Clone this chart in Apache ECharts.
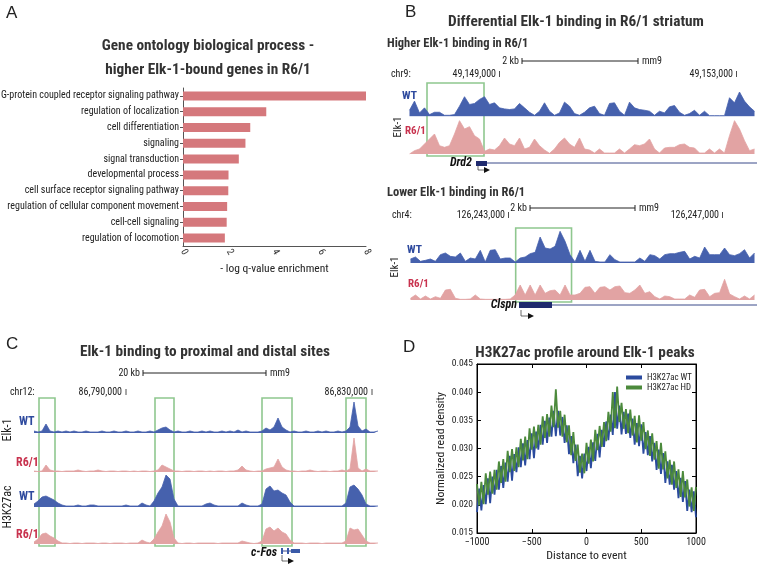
<!DOCTYPE html>
<html>
<head>
<meta charset="utf-8">
<script src="https://cdn.jsdelivr.net/npm/echarts@6/dist/echarts.min.js"></script>
<style>
  html, body { margin: 0; padding: 0; background: #fff; }
  #main { width: 757px; height: 565px; }
</style>
</head>
<body>
<div id="main"></div>
<script>
// ---- A: GO terms ----
const goTerms = [
  'G-protein coupled receptor signaling pathway',
  'regulation of localization',
  'cell differentiation',
  'signaling',
  'signal transduction',
  'developmental process',
  'cell surface receptor signaling pathway',
  'regulation of cellular component movement',
  'cell-cell signaling',
  'regulation of locomotion'
]
const goScores = [8.0, 3.64, 2.94, 2.73, 2.44, 1.99, 1.98, 1.93, 1.91, 1.83]

// ---- B: Drd2 locus (higher in R6/1), signal per 5px bin ----
const drd2WT = [18, 45, 10, 25, 5, 12, 12, 3, 3, 5, 30, 58, 35, 38, 50, 58, 35, 40, 25, 22,
  20, 22, 38, 25, 12, 3, 15, 40, 15, 3, 10, 42, 30, 8, 3, 12, 25, 30, 8, 3,
  38, 40, 15, 3, 42, 25, 20, 18, 15, 3, 15, 10, 28, 32, 12, 3, 8, 18, 3, 15,
  2, 2, 2, 2, 55, 40, 72, 45, 28, 15]
const drd2R6 = [0, 10, 15, 30, 45, 60, 25, 20, 25, 60, 100, 75, 82, 55, 45, 8, 15, 12, 25, 48,
  30, 25, 48, 15, 20, 45, 25, 12, 2, 15, 35, 48, 30, 20, 48, 15, 12, 3, 15, 3,
  3, 3, 15, 3, 15, 28, 25, 30, 45, 15, 3, 18, 20, 20, 28, 30, 20, 18, 3, 3,
  15, 3, 15, 3, 55, 100, 75, 40, 10, 15]
const drd2Box = [[4, 15.4]]

// ---- B: Clspn locus (lower in R6/1) ----
const clspnWT = [12, 18, 5, 8, 12, 5, 25, 30, 20, 18, 30, 5, 15, 12, 38, 3, 38, 40, 12, 15,
  15, 3, 15, 18, 28, 32, 78, 45, 42, 50, 95, 65, 25, 3, 38, 5, 38, 5, 3, 3,
  25, 10, 3, 3, 3, 3, 15, 5, 25, 22, 12, 25, 28, 28, 32, 35, 12, 20, 15, 48,
  25, 25, 25, 45, 25, 22, 28, 40, 15, 30]
const clspnR6 = [5, 15, 3, 12, 3, 10, 5, 30, 32, 5, 2, 2, 3, 15, 3, 2, 2, 2, 2, 2,
  3, 15, 45, 15, 45, 15, 45, 20, 28, 30, 15, 45, 15, 15, 20, 38, 40, 20, 38, 40,
  30, 40, 42, 22, 20, 30, 45, 20, 25, 10, 3, 12, 10, 3, 3, 3, 15, 8, 30, 32,
  10, 20, 22, 62, 18, 10, 3, 12, 3, 15]
const clspnBox = [[21.6, 32.8]]

// ---- C: c-Fos locus, signal per 4px bin ----
const fosElkWT = [2, 1, 2, 9, 2, 1, 2, 1, 2, 1, 2, 1, 1, 2, 1, 1, 1, 2, 1, 1,
  2, 1, 1, 2, 1, 1, 2, 1, 1, 2, 1, 3, 5, 6, 3, 1, 2, 1, 1, 2,
  1, 1, 2, 1, 2, 1, 1, 2, 1, 2, 1, 3, 1, 2, 1, 1, 1, 2, 5, 3,
  6, 15, 6, 3, 1, 2, 1, 1, 2, 1, 1, 2, 1, 2, 1, 1, 2, 1, 2, 6,
  31, 7, 2, 4, 1, 1, 2]
const fosElkR6 = [1, 0.5, 1, 7, 2, 1, 1, 0.5, 1, 1, 1, 2, 1, 0.5, 1, 1, 2, 1, 0.5, 1,
  1, 0.5, 1, 1, 0.5, 1, 0.5, 1, 1, 0.5, 1, 2, 7, 5, 3, 1, 1, 0.5, 1, 1,
  0.5, 1, 1, 0.5, 1, 0.5, 1, 1, 0.5, 1, 1, 2, 6, 2, 1, 0.5, 1, 1, 3, 4,
  5, 13, 5, 2, 1, 1, 0.5, 1, 1, 2, 1, 0.5, 1, 1, 0.5, 1, 1, 2, 1, 3,
  34, 4, 1, 3, 1, 1, 1]
const fosAcWT = [3, 6, 10, 11, 9, 7, 4, 2, 1, 1, 1, 2, 1, 1, 2, 2, 1, 1, 1, 1,
  1, 1, 1, 2, 1, 1, 1, 4, 2, 1, 6, 14, 20, 32, 28, 8, 1, 1, 1, 1,
  1, 1, 1, 3, 4, 2, 1, 1, 1, 1, 1, 1, 4, 2, 1, 1, 1, 3, 18, 21,
  16, 17, 14, 12, 5, 1, 1, 1, 1, 1, 1, 1, 1, 1, 1, 1, 1, 1, 4, 20,
  22, 18, 12, 3, 1, 1, 1]
const fosAcR6 = [2, 5, 10, 11, 8, 6, 3, 1, 1, 0.5, 1, 1, 0.5, 1, 1, 1, 0.5, 1, 1, 0.5,
  1, 1, 1, 0.5, 1, 1, 1, 4, 2, 1, 5, 12, 18, 30, 22, 6, 1, 0.5, 1, 1,
  0.5, 1, 1, 1, 1, 1, 0.5, 1, 1, 1, 1, 1, 3, 2, 1, 0.5, 1, 3, 15, 17,
  13, 16, 12, 10, 4, 1, 1, 1, 0.5, 1, 1, 1, 0.5, 1, 1, 1, 1, 1, 3, 16,
  14, 15, 9, 3, 1, 1, 1]
const fosBoxes = [[1.75, 5.75], [30.75, 35.5], [57.5, 65], [78.5, 83.5]]

// ---- D: H3K27ac profile ----
const distance = [-1000, -980, -960, -940, -920, -900, -880, -860, -840, -820,
  -800, -780, -760, -740, -720, -700, -680, -660, -640, -620,
  -600, -580, -560, -540, -520, -500, -480, -460, -440, -420,
  -400, -380, -360, -340, -320, -300, -280, -260, -240, -220,
  -200, -180, -160, -140, -120, -100, -80, -60, -40, -20,
  0, 20, 40, 60, 80, 100, 120, 140, 160, 180,
  200, 220, 240, 260, 280, 300, 320, 340, 360, 380,
  400, 420, 440, 460, 480, 500, 520, 540, 560, 580,
  600, 620, 640, 660, 680, 700, 720, 740, 760, 780,
  800, 820, 840, 860, 880, 900, 920, 940, 960, 980, 1000]
const densityWT = [0.0187, 0.0229, 0.0190, 0.0235, 0.0201, 0.0247, 0.0203, 0.0250, 0.0218, 0.0262,
  0.0227, 0.0269, 0.0230, 0.0275, 0.0241, 0.0287, 0.0243, 0.0290, 0.0258, 0.0302,
  0.0267, 0.0309, 0.0270, 0.0315, 0.0281, 0.0327, 0.0283, 0.0330, 0.0298, 0.0342,
  0.0307, 0.0349, 0.0310, 0.0355, 0.0321, 0.0367, 0.0322, 0.0367, 0.0323, 0.0356,
  0.0310, 0.0341, 0.0290, 0.0322, 0.0274, 0.0307, 0.0251, 0.0287, 0.0247, 0.0291,
  0.0260, 0.0303, 0.0265, 0.0311, 0.0278, 0.0326, 0.0284, 0.0333, 0.0303, 0.0348,
  0.0315, 0.0360, 0.0324, 0.0400, 0.0335, 0.0376, 0.0325, 0.0365, 0.0326, 0.0362,
  0.0319, 0.0353, 0.0307, 0.0345, 0.0304, 0.0343, 0.0291, 0.0329, 0.0288, 0.0322,
  0.0277, 0.0310, 0.0262, 0.0298, 0.0255, 0.0292, 0.0239, 0.0277, 0.0236, 0.0271,
  0.0227, 0.0260, 0.0212, 0.0248, 0.0205, 0.0242, 0.0189, 0.0227, 0.0187, 0.0224, 0.0178]
const densityHD = [0.0237, 0.0199, 0.0241, 0.0201, 0.0256, 0.0218, 0.0259, 0.0220, 0.0262, 0.0227,
  0.0277, 0.0239, 0.0281, 0.0241, 0.0296, 0.0258, 0.0299, 0.0260, 0.0302, 0.0267,
  0.0317, 0.0279, 0.0321, 0.0281, 0.0336, 0.0298, 0.0339, 0.0300, 0.0342, 0.0307,
  0.0357, 0.0319, 0.0361, 0.0321, 0.0376, 0.0338, 0.0405, 0.0337, 0.0367, 0.0321,
  0.0360, 0.0311, 0.0341, 0.0288, 0.0329, 0.0278, 0.0307, 0.0257, 0.0291, 0.0256,
  0.0310, 0.0273, 0.0316, 0.0277, 0.0333, 0.0297, 0.0340, 0.0303, 0.0347, 0.0313,
  0.0365, 0.0330, 0.0400, 0.0336, 0.0410, 0.0347, 0.0381, 0.0335, 0.0370, 0.0327,
  0.0369, 0.0323, 0.0358, 0.0311, 0.0359, 0.0314, 0.0347, 0.0299, 0.0332, 0.0287,
  0.0327, 0.0280, 0.0313, 0.0264, 0.0310, 0.0263, 0.0295, 0.0247, 0.0280, 0.0236,
  0.0277, 0.0230, 0.0263, 0.0214, 0.0260, 0.0213, 0.0245, 0.0197, 0.0231, 0.0189, 0.0232]

const BLUE = '#4661ad'
const PINK = '#e2a3a3'
const RED = '#c8324e'
const BOXGREEN = '#8fc78f'
const NAVY = '#1f2a6e'
const FONT = '"Liberation Sans", Arial, sans-serif'
const COND = '"Roboto Condensed", "DejaVu Sans Condensed", sans-serif'

var myChart = echarts.init(document.getElementById('main'))

var grids = []
var xAxes = []
var yAxes = []
var series = []

// genome browser style track
function addTrack (values, color, box) {
  var idx = grids.length
  grids.push(Object.assign({ outerBoundsMode: 'none' }, box))
  xAxes.push({ gridIndex: idx, type: 'category', show: false, boundaryGap: true, data: values.map((v, i) => i) })
  yAxes.push({ gridIndex: idx, type: 'value', show: false, min: 0, max: box.ymax })
  series.push({
    type: 'line', xAxisIndex: idx, yAxisIndex: idx, data: values, symbol: 'none', silent: true,
    lineStyle: { color: color, width: 0.8 }, areaStyle: { color: color, opacity: 1 }
  })
}

// green highlight boxes, in bin units
function addBoxes (boxes, n, box) {
  var idx = grids.length
  grids.push(Object.assign({ outerBoundsMode: 'none' }, box))
  xAxes.push({ gridIndex: idx, type: 'value', show: false, min: 0, max: n })
  yAxes.push({ gridIndex: idx, type: 'value', show: false, min: 0, max: 1 })
  series.push({
    type: 'line', xAxisIndex: idx, yAxisIndex: idx, data: [], z: 5, silent: true,
    markArea: {
      silent: true,
      itemStyle: { color: 'rgba(0,0,0,0)', borderColor: BOXGREEN, borderWidth: 1.6 },
      data: boxes.map(b => [{ xAxis: b[0], yAxis: 0 }, { xAxis: b[1], yAxis: 1 }])
    }
  })
}

// A
grids.push({ left: 183, right: 391, top: 88, bottom: 319, outerBoundsMode: 'none' })
xAxes.push({
  gridIndex: 0, type: 'value', min: 0, max: 8, interval: 2,
  name: '- log q-value enrichment', nameLocation: 'middle', nameGap: 17,
  nameTextStyle: { fontFamily: COND, fontSize: 11.5, color: '#222' },
  axisLine: { show: true, onZero: false, lineStyle: { color: '#555' } },
  axisTick: { show: false }, splitLine: { show: false },
  axisLabel: { rotate: -60, fontFamily: COND, fontSize: 10, color: '#333', margin: 4 }
})
yAxes.push({
  gridIndex: 0, type: 'category', data: goTerms, inverse: true,
  axisLine: { show: true, onZero: false, lineStyle: { color: '#555' } },
  axisTick: { show: true, alignWithLabel: true, length: 3, lineStyle: { color: '#555' } },
  axisLabel: { fontFamily: COND, fontSize: 10, color: '#222', margin: 4 }
})
series.push({
  type: 'bar', xAxisIndex: 0, yAxisIndex: 0, data: goScores, barWidth: 9,
  itemStyle: { color: '#d5787c' }, silent: true
})

// B top
addTrack(drd2WT, BLUE, { left: 407, width: 350, top: 89.3, height: 27, ymax: 80 })
addTrack(drd2R6, PINK, { left: 407, width: 350, top: 119, height: 35, ymax: 105 })
addBoxes(drd2Box, 70, { left: 407, width: 350, top: 83, height: 73 })
// B bottom
addTrack(clspnWT, BLUE, { left: 408, width: 349, top: 228, height: 35, ymax: 105 })
addTrack(clspnR6, PINK, { left: 408, width: 349, top: 277, height: 23, ymax: 69 })
addBoxes(clspnBox, 70, { left: 408, width: 349, top: 228, height: 74 })
// C
addTrack(fosElkWT, BLUE, { left: 32, width: 348, top: 398, height: 35, ymax: 35 })
addTrack(fosElkR6, PINK, { left: 32, width: 348, top: 436, height: 36, ymax: 36 })
addTrack(fosAcWT, BLUE, { left: 32, width: 348, top: 472, height: 35, ymax: 35 })
addTrack(fosAcR6, PINK, { left: 32, width: 348, top: 509, height: 35, ymax: 35 })
addBoxes(fosBoxes, 87, { left: 32, width: 348, top: 398, height: 148 })

// D
var dIdx = grids.length
grids.push({ left: 477, right: 61, top: 364, bottom: 32, show: true, borderColor: '#000', borderWidth: 1, backgroundColor: '#fff', outerBoundsMode: 'none' })
xAxes.push({
  gridIndex: dIdx, type: 'value', min: -1000, max: 1000, interval: 500,
  name: 'Distance to event', nameLocation: 'middle', nameGap: 17,
  nameTextStyle: { fontFamily: COND, fontSize: 11.8, color: '#222' },
  axisLine: { onZero: false, lineStyle: { color: '#000' } },
  axisTick: { inside: true, length: 4, lineStyle: { color: '#000' } },
  splitLine: { show: false },
  axisLabel: { fontFamily: COND, fontSize: 10, color: '#222', margin: 4, formatter: v => String(v).replace('-', '\u2212') }
})
yAxes.push({
  gridIndex: dIdx, type: 'value', min: 0.015, max: 0.045, interval: 0.005,
  name: 'Normalized read density', nameLocation: 'middle', nameGap: 30,
  nameTextStyle: { fontFamily: COND, fontSize: 11.8, color: '#222' },
  axisLine: { show: true, onZero: false, lineStyle: { color: '#000' } },
  axisTick: { show: true, inside: true, length: 4, lineStyle: { color: '#000' } },
  splitLine: { show: false },
  axisLabel: { fontFamily: COND, fontSize: 9.5, color: '#222', margin: 4, formatter: v => v.toFixed(3) }
})
// mirrored tick marks on top and right, matplotlib style
xAxes.push({
  gridIndex: dIdx, type: 'value', position: 'top', min: -1000, max: 1000, interval: 500,
  axisLine: { onZero: false, lineStyle: { color: '#000' } },
  axisTick: { inside: true, length: 4, lineStyle: { color: '#000' } },
  axisLabel: { show: false }, splitLine: { show: false }
})
yAxes.push({
  gridIndex: dIdx, type: 'value', position: 'right', min: 0.015, max: 0.045, interval: 0.005,
  axisLine: { show: true, onZero: false, lineStyle: { color: '#000' } },
  axisTick: { show: true, inside: true, length: 4, lineStyle: { color: '#000' } },
  axisLabel: { show: false }, splitLine: { show: false }
})
series.push({
  name: 'H3K27ac WT', type: 'line', xAxisIndex: dIdx, yAxisIndex: dIdx,
  data: distance.map((d, i) => [d, densityWT[i]]), symbol: 'none', silent: true,
  lineStyle: { color: '#2b4b9e', width: 1.8 }, itemStyle: { color: '#2b4b9e' }
})
series.push({
  name: 'H3K27ac HD', type: 'line', xAxisIndex: dIdx, yAxisIndex: dIdx,
  data: distance.map((d, i) => [d, densityHD[i]]), symbol: 'none', silent: true,
  lineStyle: { color: '#4c8a3c', width: 1.8 }, itemStyle: { color: '#4c8a3c' }
})

function txt (x, y, text, o) {
  o = o || {}
  return {
    type: 'text', x: x, y: y, rotation: o.rot || 0, z: 10,
    style: {
      text: text,
      font: (o.style || '') + ' ' + (o.weight || 'normal') + ' ' + (o.size || 11) + 'px ' + (o.family || COND),
      fill: o.color || '#222',
      align: o.align || 'left',
      verticalAlign: 'middle'
    }
  }
}
function ln (x1, y1, x2, y2, w, c) {
  return { type: 'line', z: 10, shape: { x1: x1, y1: y1, x2: x2, y2: y2 }, style: { stroke: c || '#222', lineWidth: w || 1 } }
}
function rc (x, y, w, h, c) {
  return { type: 'rect', z: 10, shape: { x: x, y: y, width: w, height: h }, style: { fill: c || NAVY } }
}
function tss (x, y1, y2, x2) {
  return [
    { type: 'polyline', z: 10, shape: { points: [[x, y1], [x, y2], [x2, y2]] }, style: { stroke: '#444', lineWidth: 0.8, fill: null } },
    { type: 'polygon', z: 10, shape: { points: [[x2, y2 - 3], [x2 + 6, y2], [x2, y2 + 3]] }, style: { fill: '#111' } }
  ]
}
function scaleBar (label, x1, x2, y) {
  return [
    txt(x1 - 3, y, label, { align: 'right', size: 10 }),
    ln(x1, y, x2, y, 1), ln(x1, y - 3, x1, y + 3, 1), ln(x2, y - 3, x2, y + 3, 1),
    txt(x2 + 4, y, 'mm9', { size: 10 })
  ]
}

var TITLE = { align: 'center', weight: 'bold', size: 15.3, color: '#333' }
var SUB = { weight: 'bold', size: 12.5, color: '#333' }
var WTB = { weight: 'bold', size: 11.5, color: '#2e4a9e' }
var R6B = { weight: 'bold', size: 11, color: RED }
var WTC = { weight: 'bold', size: 12, color: '#2e4a9e' }
var R6C = { weight: 'bold', size: 12, color: RED }
var GENE = { align: 'right', weight: 'bold', style: 'italic', size: 12, color: '#111' }
var COORD = { size: 10 }
var COORDR = { size: 10, align: 'right' }

var elements = [
  // panel letters
  txt(6, 13, 'A', { size: 17, family: FONT }),
  txt(405, 12, 'B', { size: 17, family: FONT }),
  txt(6, 344, 'C', { size: 17, family: FONT }),
  txt(403, 347, 'D', { size: 17, family: FONT }),
  // A title
  txt(208, 46, 'Gene ontology biological process -', TITLE),
  txt(208, 70, 'higher Elk-1-bound genes in R6/1', TITLE),
  // B
  txt(576, 22, 'Differential Elk-1 binding in R6/1 striatum', TITLE),
  txt(387, 44, 'Higher Elk-1 binding in R6/1', SUB),
  txt(391, 74, 'chr9:', COORD),
  txt(496, 74, '49,149,000', COORDR), ln(499.5, 71, 499.5, 77, 0.8),
  txt(733, 74, '49,153,000', COORDR), ln(736.5, 71, 736.5, 77, 0.8),
  txt(402, 96, 'WT', WTB),
  txt(398, 127, 'Elk-1', { size: 11, rot: Math.PI / 2, align: 'center' }),
  txt(405, 131, 'R6/1', R6B),
  txt(472, 163, 'Drd2', GENE),
  ln(486, 163, 757, 163, 1, '#3a4a8a'), rc(476, 161, 11, 5),
  txt(387, 193, 'Lower Elk-1 binding in R6/1', SUB),
  txt(392, 215, 'chr4:', COORD),
  txt(505, 215, '126,243,000', COORDR), ln(508.5, 212, 508.5, 218, 0.8),
  txt(719, 215, '126,247,000', COORDR), ln(722.5, 212, 722.5, 218, 0.8),
  txt(407, 250, 'WT', WTB),
  txt(395, 267, 'Elk-1', { size: 11, rot: Math.PI / 2, align: 'center' }),
  txt(408, 284, 'R6/1', R6B),
  txt(517, 305, 'Clspn', GENE),
  ln(551, 305, 757, 305, 1, '#3a4a8a'), rc(519, 302, 33, 6),
  // C
  txt(205, 352, 'Elk-1 binding to proximal and distal sites', TITLE),
  txt(10, 392, 'chr12:', COORD),
  txt(122, 392, '86,790,000', COORDR), ln(126, 389, 126, 395, 0.8),
  txt(368, 392, '86,830,000', COORDR), ln(372, 389, 372, 395, 0.8),
  txt(19, 422, 'WT', WTC),
  txt(16, 463, 'R6/1', R6C),
  txt(19, 497, 'WT', WTC),
  txt(16, 535, 'R6/1', R6C),
  txt(8, 430, 'Elk-1', { size: 12, rot: Math.PI / 2, align: 'center' }),
  txt(8, 507, 'H3K27ac', { size: 12, rot: Math.PI / 2, align: 'center' }),
  txt(277, 553, 'c-Fos', GENE),
  ln(281, 551, 300, 551, 1, '#3a4a8a'), rc(281, 548, 2, 6, '#3a5aa8'), rc(287, 548, 2, 6, '#3a5aa8'), rc(291, 549, 9, 4, '#3a5aa8'),
  // D
  txt(585, 353, 'H3K27ac profile around Elk-1 peaks', TITLE)
]
elements = elements
  .concat(scaleBar('2 kb', 522, 638, 61))
  .concat(scaleBar('2 kb', 530, 635, 208))
  .concat(scaleBar('20 kb', 143, 266, 373))
  .concat(tss(478, 166, 170, 484))
  .concat(tss(521, 310, 316, 528))
  .concat(tss(282, 555, 561, 288))

myChart.setOption({
  animation: false,
  backgroundColor: '#fff',
  textStyle: { fontFamily: COND },
  legend: {
    data: ['H3K27ac WT', 'H3K27ac HD'],
    orient: 'vertical', left: 621, top: 368, itemGap: 1,
    itemWidth: 16, itemHeight: 4, icon: 'rect',
    textStyle: { fontFamily: COND, fontSize: 8.8, color: '#222' }
  },
  grid: grids,
  xAxis: xAxes,
  yAxis: yAxes,
  series: series,
  graphic: { elements: elements }
})
</script>
</body>
</html>
